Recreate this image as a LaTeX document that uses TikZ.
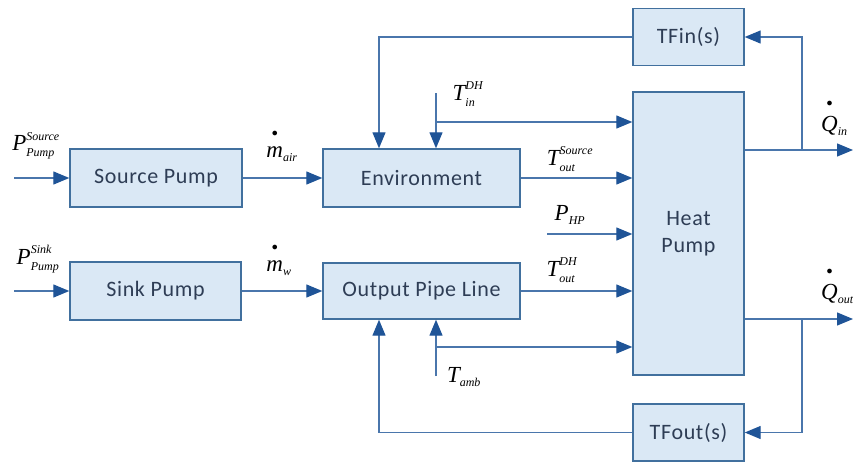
\documentclass[tikz,border=0pt]{standalone}
\usepackage{amsmath}
\usepackage{fontspec}
\setmainfont{Liberation Serif}
\newfontfamily\boxfont[LetterSpace=3]{Carlito}
\usetikzlibrary{arrows.meta}
\definecolor{boxfill}{HTML}{DAE8F5}
\definecolor{boxline}{HTML}{41709E}
\definecolor{wire}{HTML}{4A76AC}
\definecolor{tipc}{HTML}{1F5497}
\definecolor{txt}{HTML}{2E3D55}
\DeclareMathSizes{23}{23}{12}{10}
\newcommand{\hdot}[1]{\overset{\raisebox{5pt}{$\scriptstyle\bullet$}}{#1}}
\begin{document}
\begin{tikzpicture}[x=1pt,y=-1pt,
  blk/.style={draw=boxline,fill=boxfill,line width=1.4pt,inner sep=0pt,
    text=txt,font=\boxfont\fontsize{22}{27}\selectfont,align=center},
  arr/.style={draw=wire,line width=1.3pt,-{Triangle[length=16pt,width=13pt,color=tipc]}},
  lab/.style={inner sep=0pt,font=\fontsize{23}{25}\selectfont}]
\useasboundingbox (0,0) rectangle (853,463);
% blocks
\node[blk,minimum width=172pt,minimum height=58pt] (sp) at (156,178) {Source Pump};
\node[blk,minimum width=171pt,minimum height=58pt] (kp) at (155.5,291) {Sink Pump};
\node[blk,minimum width=197pt,minimum height=58pt] (env) at (421.5,178) {Environment};
\node[blk,minimum width=197pt,minimum height=56pt] (opl) at (421.5,291) {Output Pipe Line};
\node[blk,minimum width=111pt,minimum height=57pt] (tfin) at (688.5,37) {TFin(s)};
\node[blk,minimum width=111pt,minimum height=283pt] (hp) at (688.5,233.5) {Heat\\Pump};
\node[blk,minimum width=111pt,minimum height=57pt] (tfout) at (688.5,432.5) {TFout(s)};
% coordinates
\coordinate (in1) at (14,178);
\coordinate (in2) at (14,291);
\coordinate (fb1) at (379,37);
\coordinate (fb2) at (379,432.5);
\coordinate (tin) at (436,93);
\coordinate (tinb) at (436,122);
\coordinate (tamb) at (436,376);
\coordinate (tambb) at (436,347);
\coordinate (php) at (547,234);
\coordinate (qin) at (853,150);
\coordinate (qinj) at (802,150);
\coordinate (qout) at (853,319);
\coordinate (qoutj) at (802,319);
% connectors
\draw[arr] (in1) -- (sp);
\draw[arr] (in2) -- (kp);
\draw[arr] (sp) -- (env);
\draw[arr] (kp) -- (kp -| opl.west);
\draw[arr] (env.east) -- (env.east -| hp.west);
\draw[arr] (opl.east) -- (opl.east -| hp.west);
\draw[arr] (tfin.west) -- (fb1) -- (fb1 |- env.north);
\draw[arr] (tfout.west) -- (fb2) -- (fb2 |- opl.south);
\draw[arr] (tin) -- (tin |- env.north);
\draw[arr] (tinb) -- (tinb -| hp.west);
\draw[arr] (tamb) -- (tamb |- opl.south);
\draw[arr] (tambb) -- (tambb -| hp.west);
\draw[arr] (php) -- (php -| hp.west);
\draw[arr] (qin -| hp.east) -- (qin);
\draw[arr] (qinj) |- (tfin.east);
\draw[arr] (qout -| hp.east) -- (qout);
\draw[arr] (qoutj) |- (tfout.east);
% labels
\node[lab] (l1) at (36,146) {$\textit{P}^{\textit{Source}}_{\textit{Pump}}$};
\node[lab] (l2) at (38,259) {$\textit{P}^{\textit{Sink}}_{\textit{Pump}}$};
\node[lab] (l3) at (282,145) {$\hdot{\textit{m}}_{\textit{air}}$};
\node[lab] (l4) at (279,259) {$\hdot{\textit{m}}_{\textit{w}}$};
\node[lab] (l5) at (468,94) {$\textit{T}^{\textit{DH}}_{\textit{in}}$};
\node[lab] (l6) at (570,159) {$\textit{T}^{\textit{Source}}_{\textit{out}}$};
\node[lab] (l7) at (570,215) {$\textit{P}_{\textit{HP}}$};
\node[lab] (l8) at (562,270) {$\textit{T}^{\textit{DH}}_{\textit{out}}$};
\node[lab] (l9) at (464,377) {$\textit{T}_{\textit{amb}}$};
\node[lab,anchor=west] (l10) at (821,117) {$\hdot{\textit{Q}}_{\textit{in}}$};
\node[lab,anchor=west] (l11) at (821,285) {$\hdot{\textit{Q}}_{\textit{out}}$};
\end{tikzpicture}
\end{document}
